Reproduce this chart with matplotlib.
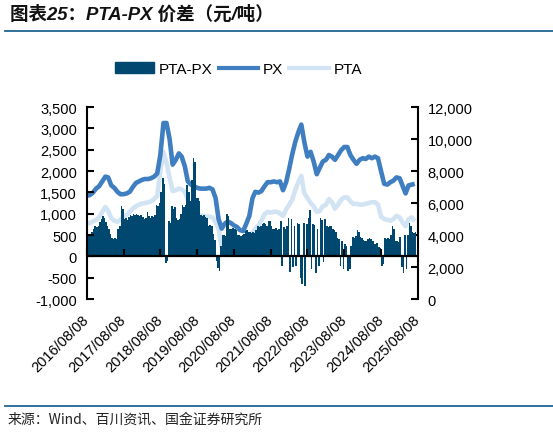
import numpy as np
import pandas as pd
import matplotlib
matplotlib.use("Agg")
import matplotlib.pyplot as plt
from matplotlib.lines import Line2D
from matplotlib.patches import Patch
from matplotlib.ticker import FuncFormatter, MultipleLocator

plt.rcParams['font.family'] = ['Liberation Sans', 'Noto Sans CJK SC', 'DejaVu Sans']

# monthly PX / PTA prices (yuan/ton), from 2016-08
px = [6450, 6500, 6650, 6900, 7050, 7350, 7650, 7600, 7100, 6950, 6700, 6550,
      6550, 6600, 6700, 7000, 7250, 7350, 7450, 7500, 7500, 7550, 7650, 7850,
      9000, 11000, 11000, 10000, 8400, 8700, 9100, 8900, 8300, 7350, 7150, 7050,
      6950, 6900, 6900, 6900, 6950, 6850, 6300, 5000, 4400, 4700, 4850, 4750,
      4600, 4500, 4300, 4250, 4700, 5200, 6300, 6700, 6650, 6750, 7050, 7300,
      7300, 7350, 7300, 7350, 6800, 7300, 8150, 9000, 9800, 10400, 10900, 9800,
      8900, 9200, 8600, 7800, 8200, 8600, 8700, 9000, 8900, 8700, 9000, 9300,
      9500, 9500, 9000, 8700, 8450, 8700, 8800, 8750, 8900, 8800, 8900, 8800,
      7980, 7200, 7150, 7300, 7400, 7600, 7550, 7100, 6600, 7100, 7150, 7200]
pta = [4700, 4750, 4850, 4950, 5100, 5450, 5750, 5500, 5050, 4900, 4830, 4950,
       5150, 5250, 5450, 5650, 5800, 5900, 5970, 6000, 6050, 6100, 6250, 6450,
       8000, 9200, 8500, 7600, 6750, 6800, 6900, 6850, 6700, 6200, 5700, 5500,
       5300, 5200, 5200, 5150, 5150, 5100, 4800, 4400, 3200, 3500, 3600, 3550,
       3400, 3300, 3100, 3000, 3400, 3800, 4150, 4400, 4600, 4900, 5300, 5450,
       5400, 5450, 5450, 5350, 5200, 5600, 5900, 6200, 6800, 7300, 7700, 6600,
       6300, 6000, 5800, 5450, 5500, 5800, 5900, 6250, 6050, 5650, 5900, 6200,
       6350, 6350, 6100, 5950, 5950, 5900, 5900, 5950, 6000, 6050, 6050, 5900,
       5150, 5000, 4950, 4900, 5000, 5200, 5100, 4800, 4550, 5000, 5100, 4850]

# half-monthly PTA-PX spread (yuan/ton)
spread = [420, 480, 520, 560, 640, 700, 680, 720, 800, 870, 940, 900,
          800, 700, 640, 520, 420, 400, 430, 410, 650, 720, 1170, 1100,
          880, 890, 850, 930, 960, 950, 1000, 980, 1000, 960, 950, 970,
          920, 880, 900, 1050, 940, 900, 940, 920, 960, 1200, 1180, 1250,
          1500, 1830, 1700, -150, -100, 820, 780, 1170, 1100, 1150, 890, 850,
          880, 1000, 1200, 1150, 1200, 1670, 1500, 1290, 1800, 2300, 2200, 1360,
          1360, 1300, 960, 950, 980, 930, 900, 720, 740, 700, 520, 380,
          -120, -280, -340, 250, 490, 500, 480, 1000, 950, 650, 640, 660,
          650, 620, 490, 500, 480, 500, 520, 600, 620, 580, 560, 540,
          580, 550, 620, 700, 690, 710, 760, 770, 750, 720, 840, 820,
          700, 650, 640, 660, 620, 650, 820, -220, 680, 650, 700, 890,
          -360, 880, -250, 720, -220, 770, 750, -500, -650, 770, -690, 750,
          900, 1080, -290, 760, 740, -380, 650, -220, 890, 850, -130, 880,
          700, 690, 700, 720, 650, 610, 560, 420, 400, -220, 350, -290,
          300, 250, -340, -300, 250, 460, 430, 470, 610, 580, 460, 420,
          380, 350, 360, 400, 420, 410, 350, 300, 290, 310, 230, 200,
          -220, -180, 420, 400, 430, 410, 500, 700, 650, 350, 360, 340,
          460, -250, -380, 490, -300, 500, 770, 700, 560, 540, 560]

tick_labels = ['%d/08/08' % y for y in range(2016, 2026)]

start = pd.Timestamp('2016-08-08')
line_dates = pd.date_range(start, periods=len(px), freq=pd.DateOffset(months=1))
step = 365.25 / 24
bar_dates = start + pd.to_timedelta(np.arange(len(spread)) * step, unit='D')
tick_dates = [pd.Timestamp(t.replace('/', '-')) for t in tick_labels]

c_bar = '#004870'
c_px = '#3F7EC0'
c_pta = '#D2E4F4'

fig = plt.figure(figsize=(5.53, 4.35), dpi=100)
ax = fig.add_axes([0.157, 0.3103, 0.5986, 0.4414])
ax2 = ax.twinx()

ax2.plot(line_dates, pta, color=c_pta, lw=3.3, solid_capstyle='butt')
ax2.plot(line_dates, px, color=c_px, lw=3.3, solid_capstyle='butt')
ax.bar(bar_dates, spread, width=step * 1.05, color=c_bar, linewidth=0, align='edge')

# bars sit in front of the lines
ax.set_zorder(ax2.get_zorder() + 1)
ax.patch.set_visible(False)

ax.set_xlim(tick_dates[0], tick_dates[-1])
ax.set_ylim(-1000, 3500)
ax2.set_ylim(0, 12000)
ax.yaxis.set_major_locator(MultipleLocator(500))
ax2.yaxis.set_major_locator(MultipleLocator(2000))
fmt = FuncFormatter(lambda v, p: '{:,.0f}'.format(v))
ax.yaxis.set_major_formatter(fmt)
ax2.yaxis.set_major_formatter(fmt)

ax.axhline(0, color='black', lw=1.6, zorder=5)
ax.plot(tick_dates, [0] * len(tick_dates), linestyle='none', marker=2,
        markersize=5, mew=1.5, color='black', zorder=5, clip_on=False)

for s in ['top', 'bottom', 'right']:
    ax.spines[s].set_visible(False)
for s in ['top', 'bottom', 'left']:
    ax2.spines[s].set_visible(False)
ax.spines['left'].set_linewidth(1.5)
ax2.spines['right'].set_linewidth(1.5)

ax.tick_params(axis='y', direction='in', length=5, width=1.5, pad=7, labelsize=10.5)
ax2.tick_params(axis='y', direction='in', length=5, width=1.5, pad=7, labelsize=10.5)
ax.set_xticks(tick_dates)
ax.set_xticklabels(tick_labels, rotation=45, ha='right', va='center',
                   rotation_mode='anchor', fontsize=10.5)
ax.tick_params(axis='x', length=0, pad=13)

handles = [Patch(color=c_bar), Line2D([], [], color=c_px, lw=3),
           Line2D([], [], color=c_pta, lw=3)]
fig.legend(handles, ['PTA-PX', 'PX', 'PTA'], loc='center', ncol=3,
           bbox_to_anchor=(0.431, 0.839), frameon=False, fontsize=11,
           handlelength=2.6, handletextpad=0.3, columnspacing=0.4)

fig.text(0.018, 0.9655, '图表25：PTA-PX 价差（元/吨）',
         family=['Liberation Sans', 'Noto Sans CJK SC'], fontstyle='italic',
         fontsize=13.3, fontweight='bold', va='center', ha='left', color='#111111')
fig.add_artist(Line2D([0.009, 1.0], [1 - 32 / 435] * 2, transform=fig.transFigure,
                      color='#1F6592', lw=1.3))
fig.add_artist(Line2D([0.009, 1.0], [1 - 407 / 435] * 2, transform=fig.transFigure,
                      color='#1F6592', lw=1.3))
fig.text(0.0145, 1 - 420 / 435, '来源：Wind、百川资讯、国金证券研究所',
         family=['Noto Sans CJK SC'], fontsize=10, va='center', ha='left', color='#222222')

fig.savefig('out.png', dpi=100)
